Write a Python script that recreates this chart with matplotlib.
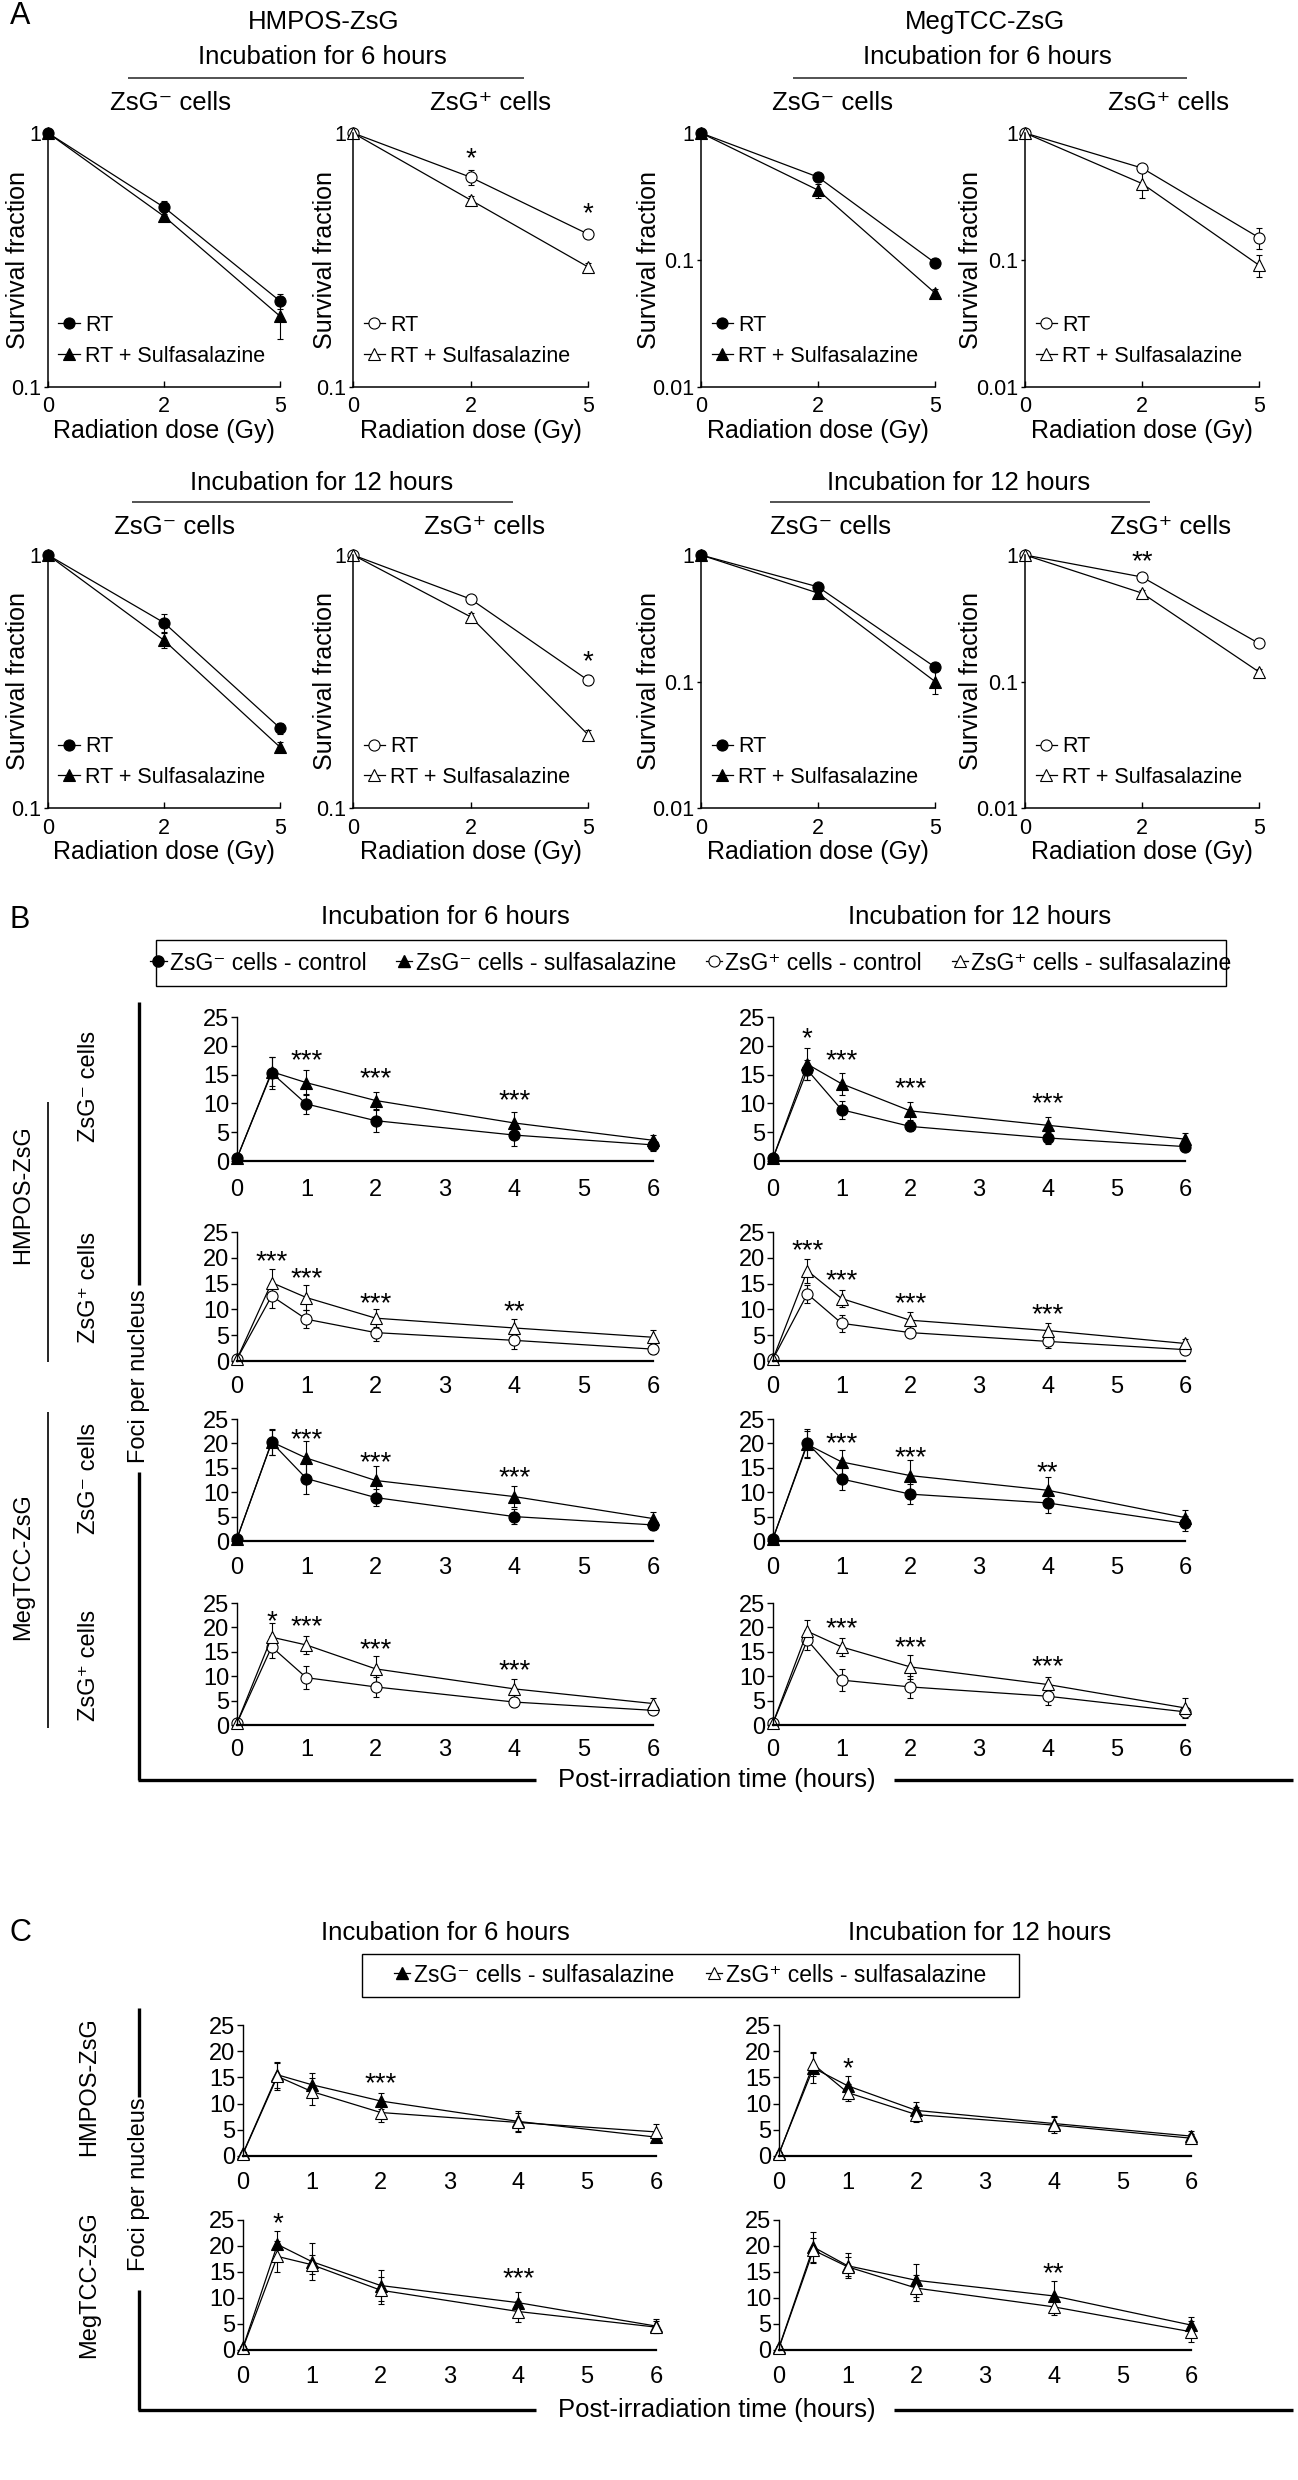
import numpy as np
import matplotlib
matplotlib.use("Agg")
import matplotlib.pyplot as plt
from matplotlib.lines import Line2D
from matplotlib.patches import Rectangle
from matplotlib.ticker import NullLocator

plt.rcParams["font.family"] = ["Liberation Sans", "DejaVu Sans"]

# ======================= DATA =======================
# ---- Panel A: survival fraction vs radiation dose (category axis) ----
dose_labels = ["0", "2", "5"]

# HMPOS-ZsG, incubation 6 h
a_hm6_neg_rt = [1.0, 0.51, 0.218]
a_hm6_neg_rt_err = [0.0, 0.03, 0.015]
a_hm6_neg_ssz = [1.0, 0.47, 0.190]
a_hm6_neg_ssz_err = [0.0, 0.02, 0.035]
a_hm6_pos_rt = [1.0, 0.67, 0.40]
a_hm6_pos_rt_err = [0.0, 0.045, 0.015]
a_hm6_pos_ssz = [1.0, 0.545, 0.297]
a_hm6_pos_ssz_err = [0.0, 0.02, 0.01]
# MegTCC-ZsG, incubation 6 h
a_mg6_neg_rt = [1.0, 0.45, 0.095]
a_mg6_neg_rt_err = [0.0, 0.03, 0.006]
a_mg6_neg_ssz = [1.0, 0.355, 0.055]
a_mg6_neg_ssz_err = [0.0, 0.045, 0.004]
a_mg6_pos_rt = [1.0, 0.53, 0.15]
a_mg6_pos_rt_err = [0.0, 0.03, 0.028]
a_mg6_pos_ssz = [1.0, 0.40, 0.091]
a_mg6_pos_ssz_err = [0.0, 0.09, 0.018]
# HMPOS-ZsG, incubation 12 h
a_hm12_neg_rt = [1.0, 0.54, 0.207]
a_hm12_neg_rt_err = [0.0, 0.045, 0.01]
a_hm12_neg_ssz = [1.0, 0.46, 0.174]
a_hm12_neg_ssz_err = [0.0, 0.03, 0.008]
a_hm12_pos_rt = [1.0, 0.67, 0.32]
a_hm12_pos_rt_err = [0.0, 0.02, 0.015]
a_hm12_pos_ssz = [1.0, 0.57, 0.195]
a_hm12_pos_ssz_err = [0.0, 0.02, 0.008]
# MegTCC-ZsG, incubation 12 h
a_mg12_neg_rt = [1.0, 0.56, 0.13]
a_mg12_neg_rt_err = [0.0, 0.04, 0.01]
a_mg12_neg_ssz = [1.0, 0.50, 0.10]
a_mg12_neg_ssz_err = [0.0, 0.03, 0.02]
a_mg12_pos_rt = [1.0, 0.67, 0.20]
a_mg12_pos_rt_err = [0.0, 0.03, 0.01]
a_mg12_pos_ssz = [1.0, 0.50, 0.119]
a_mg12_pos_ssz_err = [0.0, 0.03, 0.006]

# significance marks (category index, y, text)
a_hm6_pos_stars = [(1, 0.857, "*"), (2, 0.52, "*")]
a_hm12_pos_stars = [(2, 0.41, "*")]
a_mg12_pos_stars = [(1, 1.03, "**")]

# ---- Panels B / C: foci per nucleus vs post-irradiation time ----
time_h = [0, 0.5, 1, 2, 4, 6]

# HMPOS-ZsG, 6 h
b_hm6_neg_ctrl = [0.5, 15.3, 9.9, 7.0, 4.5, 2.8]
b_hm6_neg_ctrl_err = [0.2, 2.8, 1.8, 1.9, 1.9, 1.0]
b_hm6_neg_ssz = [0.5, 15.5, 13.6, 10.5, 6.6, 3.6]
b_hm6_neg_ssz_err = [0.2, 2.5, 2.2, 1.5, 1.9, 1.0]
b_hm6_pos_ctrl = [0.4, 12.6, 8.1, 5.5, 4.0, 2.3]
b_hm6_pos_ctrl_err = [0.2, 2.3, 1.7, 1.7, 1.6, 1.0]
b_hm6_pos_ssz = [0.4, 15.2, 12.3, 8.3, 6.4, 4.6]
b_hm6_pos_ssz_err = [0.2, 2.6, 2.5, 1.8, 1.8, 1.5]
# HMPOS-ZsG, 12 h
b_hm12_neg_ctrl = [0.5, 15.8, 8.9, 6.0, 4.0, 2.5]
b_hm12_neg_ctrl_err = [0.2, 1.8, 1.6, 0.8, 1.0, 0.5]
b_hm12_neg_ssz = [0.5, 16.8, 13.4, 8.7, 6.2, 3.8]
b_hm12_neg_ssz_err = [0.2, 2.8, 1.9, 1.6, 1.5, 1.0]
b_hm12_pos_ctrl = [0.4, 13.0, 7.3, 5.5, 3.8, 2.2]
b_hm12_pos_ctrl_err = [0.2, 1.8, 1.6, 0.8, 1.2, 0.6]
b_hm12_pos_ssz = [0.4, 17.5, 12.1, 7.9, 5.9, 3.4]
b_hm12_pos_ssz_err = [0.2, 2.3, 1.6, 1.5, 1.5, 0.8]
# MegTCC-ZsG, 6 h
b_mg6_neg_ctrl = [0.5, 20.2, 12.8, 8.9, 5.0, 3.3]
b_mg6_neg_ctrl_err = [0.2, 2.6, 3.2, 1.8, 1.6, 1.0]
b_mg6_neg_ssz = [0.5, 20.3, 17.0, 12.4, 9.1, 4.6]
b_mg6_neg_ssz_err = [0.2, 2.6, 3.5, 3.0, 2.1, 1.3]
b_mg6_pos_ctrl = [0.4, 16.0, 9.7, 7.8, 4.7, 3.0]
b_mg6_pos_ctrl_err = [0.2, 2.2, 2.3, 2.0, 1.0, 0.8]
b_mg6_pos_ssz = [0.4, 18.0, 16.4, 11.5, 7.4, 4.4]
b_mg6_pos_ssz_err = [0.2, 3.0, 1.8, 2.6, 2.0, 1.2]
# MegTCC-ZsG, 12 h
b_mg12_neg_ctrl = [0.5, 20.1, 12.7, 9.6, 7.8, 3.6]
b_mg12_neg_ctrl_err = [0.2, 2.8, 2.2, 2.1, 2.0, 1.5]
b_mg12_neg_ssz = [0.5, 19.8, 16.2, 13.4, 10.4, 4.8]
b_mg12_neg_ssz_err = [0.2, 2.8, 2.4, 3.2, 2.8, 1.5]
b_mg12_pos_ctrl = [0.4, 17.4, 9.2, 7.8, 5.9, 2.7]
b_mg12_pos_ctrl_err = [0.2, 2.0, 2.3, 2.2, 1.7, 0.7]
b_mg12_pos_ssz = [0.4, 19.2, 16.0, 11.9, 8.3, 3.5]
b_mg12_pos_ssz_err = [0.2, 2.4, 1.8, 2.5, 1.6, 2.0]

# significance marks (time, y, text)
b_hm6_neg_stars = [(1, 18.9, "***"), (2, 15.8, "***"), (4, 12.0, "***")]
b_hm12_neg_stars = [(0.5, 22.7, "*"), (1, 18.9, "***"), (2, 14.0, "***"), (4, 11.4, "***")]
b_hm6_pos_stars = [(0.5, 21.0, "***"), (1, 17.6, "***"), (2, 12.8, "***"), (4, 11.2, "**")]
b_hm12_pos_stars = [(0.5, 23.1, "***"), (1, 17.3, "***"), (2, 12.8, "***"), (4, 10.7, "***")]
b_mg6_neg_stars = [(1, 22.5, "***"), (2, 17.8, "***"), (4, 14.7, "***")]
b_mg12_neg_stars = [(1, 21.8, "***"), (2, 18.9, "***"), (4, 15.8, "**")]
b_mg6_pos_stars = [(0.5, 23.0, "*"), (1, 21.9, "***"), (2, 17.1, "***"), (4, 12.8, "***")]
b_mg12_pos_stars = [(1, 21.5, "***"), (2, 17.6, "***"), (4, 13.7, "***")]

c_hm6_stars = [(2, 15.5, "***")]
c_hm12_stars = [(1, 18.3, "*")]
c_mg6_stars = [(0.5, 26.0, "*"), (4, 15.4, "***")]
c_mg12_stars = [(4, 16.3, "**")]

# ======================= FIGURE =======================
W, H = 1298, 2480
fig = plt.figure(figsize=(W / 100, H / 100), dpi=100)


def rect(x0, x1, y0, y1):
    return [x0 / W, 1 - y1 / H, (x1 - x0) / W, (y1 - y0) / H]


def fx(x):
    return x / W


def fy(y):
    return 1 - y / H


def ftext(x, y, s, size=18.5, rot=0, **kw):
    fig.text(fx(x), fy(y), s, ha="center", va="center", fontsize=size,
             rotation=rot, **kw)


def fline(x0, y0, x1, y1, lw=1.2, color="black"):
    fig.add_artist(Line2D([fx(x0), fx(x1)], [fy(y0), fy(y1)],
                          transform=fig.transFigure, color=color, lw=lw,
                          solid_capstyle="butt"))


def noclip(cont):
    for a in cont.get_children():
        a.set_clip_on(False)


def star(ax, x, y, s, fs=20):
    ax.annotate(s, (x, y), xytext=(0, -0.58 * fs), textcoords="offset points",
                ha="center", va="baseline", fontsize=fs, annotation_clip=False)


EB = dict(color="black", lw=0.9, ms=8, mec="black", mew=0.8,
          capsize=2.5, elinewidth=0.8, capthick=0.8)


# ---------------- Panel A ----------------
def survival_panel(box, ymin, rt, rt_err, ssz, ssz_err, open_marks,
                   stars, ylab_dx, tick_dy=17, xlab_dy=44):
    x0, x1, y0, y1 = box
    ax = fig.add_axes(rect(*box))
    x = np.arange(len(dose_labels))
    fc = "white" if open_marks else "black"
    for y, e, m in ((rt, rt_err, "o"), (ssz, ssz_err, "^")):
        c = ax.errorbar(x, y, yerr=e, marker=m, mfc=fc, **EB)
        noclip(c)
    ax.set_yscale("log")
    ax.set_ylim(ymin, 1)
    ax.set_xlim(0, len(dose_labels) - 1)
    yt = [1, 0.1] + ([0.01] if ymin < 0.1 else [])
    ax.set_yticks(yt)
    ax.set_yticklabels([f"{v:g}" for v in yt])
    ax.yaxis.set_minor_locator(NullLocator())
    ax.set_xticks(x)
    ax.set_xticklabels(dose_labels)
    for s in ("top", "right"):
        ax.spines[s].set_visible(False)
    for s in ("left", "bottom"):
        ax.spines[s].set_linewidth(1.1)
    ax.tick_params(axis="y", direction="out", length=3, width=1,
                   labelsize=15.5, pad=2)
    ax.tick_params(axis="x", direction="in", length=4, width=1,
                   labelsize=15.5, pad=(tick_dy - 7.5) * 0.72)
    ax.set_ylabel("Survival fraction", fontsize=18, va="center")
    ax.yaxis.set_label_coords(-ylab_dx / (x1 - x0), 0.5)
    ax.set_xlabel("Radiation dose (Gy)", fontsize=18, va="center")
    ax.xaxis.set_label_coords(0.5, -xlab_dy / (y1 - y0))
    handles = [Line2D([], [], color="black", lw=0.9, marker="o", ms=8,
                      mfc=fc, mec="black", mew=0.8),
               Line2D([], [], color="black", lw=0.9, marker="^", ms=8,
                      mfc=fc, mec="black", mew=0.8)]
    ax.legend(handles, ["RT", "RT + Sulfasalazine"], loc="lower left",
              bbox_to_anchor=(0.045, 0.08), frameon=False, fontsize=15.5,
              handlelength=1.0, handletextpad=0.25, labelspacing=0.45,
              borderpad=0, borderaxespad=0)
    for xs, ys, s in stars:
        star(ax, xs, ys, s)
    return ax


colA = [(48, 280), (353, 588), (701, 935), (1025, 1259)]
rowA = [(133, 387), (555, 808)]

survival_panel((*colA[0], *rowA[0]), 0.1, a_hm6_neg_rt, a_hm6_neg_rt_err,
               a_hm6_neg_ssz, a_hm6_neg_ssz_err, False, [], 30)
survival_panel((*colA[1], *rowA[0]), 0.1, a_hm6_pos_rt, a_hm6_pos_rt_err,
               a_hm6_pos_ssz, a_hm6_pos_ssz_err, True, a_hm6_pos_stars, 28)
survival_panel((*colA[2], *rowA[0]), 0.01, a_mg6_neg_rt, a_mg6_neg_rt_err,
               a_mg6_neg_ssz, a_mg6_neg_ssz_err, False, [], 52)
survival_panel((*colA[3], *rowA[0]), 0.01, a_mg6_pos_rt, a_mg6_pos_rt_err,
               a_mg6_pos_ssz, a_mg6_pos_ssz_err, True, [], 54)
survival_panel((*colA[0], *rowA[1]), 0.1, a_hm12_neg_rt, a_hm12_neg_rt_err,
               a_hm12_neg_ssz, a_hm12_neg_ssz_err, False, [], 30)
survival_panel((*colA[1], *rowA[1]), 0.1, a_hm12_pos_rt, a_hm12_pos_rt_err,
               a_hm12_pos_ssz, a_hm12_pos_ssz_err, True, a_hm12_pos_stars, 28)
survival_panel((*colA[2], *rowA[1]), 0.01, a_mg12_neg_rt, a_mg12_neg_rt_err,
               a_mg12_neg_ssz, a_mg12_neg_ssz_err, False, [], 52)
survival_panel((*colA[3], *rowA[1]), 0.01, a_mg12_pos_rt, a_mg12_pos_rt_err,
               a_mg12_pos_ssz, a_mg12_pos_ssz_err, True, a_mg12_pos_stars, 54)

NEG = "ZsG\u207b cells"
POS = "ZsG\u207a cells"

ftext(20, 16, "A", size=22)
ftext(324, 22, "HMPOS-ZsG")
ftext(322, 57, "Incubation for 6 hours")
fline(128, 78, 524, 78, lw=1.3, color="#444444")
ftext(170, 103, NEG)
ftext(490, 103, POS)
ftext(985, 22, "MegTCC-ZsG")
ftext(987, 57, "Incubation for 6 hours")
fline(793, 78, 1187, 78, lw=1.3, color="#444444")
ftext(832, 103, NEG)
ftext(1169, 103, POS)

ftext(322, 483, "Incubation for 12 hours")
fline(132, 502, 513, 502, lw=1.3, color="#444444")
ftext(174, 527, NEG)
ftext(484, 527, POS)
ftext(959, 483, "Incubation for 12 hours")
fline(770, 502, 1150, 502, lw=1.3, color="#444444")
ftext(831, 527, NEG)
ftext(1170, 527, POS)


# ---------------- Panels B / C ----------------
def foci_panel(box, groups, stars, tick_dy):
    ax = fig.add_axes(rect(*box))
    for y, e, m, fc in groups:
        c = ax.errorbar(time_h, y, yerr=e, marker=m, mfc=fc, **EB)
        noclip(c)
    ax.set_xlim(0, 6)
    ax.set_ylim(0, 25)
    ax.set_xticks(range(7))
    ax.set_yticks(range(0, 26, 5))
    for s in ("top", "right"):
        ax.spines[s].set_visible(False)
    ax.spines["left"].set_linewidth(1.0)
    ax.spines["bottom"].set_linewidth(1.6)
    ax.tick_params(axis="x", length=0, labelsize=17,
                   pad=(tick_dy - 9) * 0.72)
    ax.tick_params(axis="y", direction="out", length=4, width=1,
                   labelsize=17, pad=1.5)
    for xs, ys, s in stars:
        star(ax, xs, ys, s)
    return ax


def neg_groups(ctrl, ctrl_e, ssz, ssz_e):
    return [(ctrl, ctrl_e, "o", "black"), (ssz, ssz_e, "^", "black")]


def pos_groups(ctrl, ctrl_e, ssz, ssz_e):
    return [(ctrl, ctrl_e, "o", "white"), (ssz, ssz_e, "^", "white")]


colB = [(237, 653), (773, 1185)]
rowB = [(1017, 1161, 27), (1232, 1361, 24), (1419, 1541, 25), (1603, 1725, 23)]

foci_panel((*colB[0], *rowB[0][:2]), neg_groups(b_hm6_neg_ctrl, b_hm6_neg_ctrl_err,
           b_hm6_neg_ssz, b_hm6_neg_ssz_err), b_hm6_neg_stars, rowB[0][2])
foci_panel((*colB[1], *rowB[0][:2]), neg_groups(b_hm12_neg_ctrl, b_hm12_neg_ctrl_err,
           b_hm12_neg_ssz, b_hm12_neg_ssz_err), b_hm12_neg_stars, rowB[0][2])
foci_panel((*colB[0], *rowB[1][:2]), pos_groups(b_hm6_pos_ctrl, b_hm6_pos_ctrl_err,
           b_hm6_pos_ssz, b_hm6_pos_ssz_err), b_hm6_pos_stars, rowB[1][2])
foci_panel((*colB[1], *rowB[1][:2]), pos_groups(b_hm12_pos_ctrl, b_hm12_pos_ctrl_err,
           b_hm12_pos_ssz, b_hm12_pos_ssz_err), b_hm12_pos_stars, rowB[1][2])
foci_panel((*colB[0], *rowB[2][:2]), neg_groups(b_mg6_neg_ctrl, b_mg6_neg_ctrl_err,
           b_mg6_neg_ssz, b_mg6_neg_ssz_err), b_mg6_neg_stars, rowB[2][2])
foci_panel((*colB[1], *rowB[2][:2]), neg_groups(b_mg12_neg_ctrl, b_mg12_neg_ctrl_err,
           b_mg12_neg_ssz, b_mg12_neg_ssz_err), b_mg12_neg_stars, rowB[2][2])
foci_panel((*colB[0], *rowB[3][:2]), pos_groups(b_mg6_pos_ctrl, b_mg6_pos_ctrl_err,
           b_mg6_pos_ssz, b_mg6_pos_ssz_err), b_mg6_pos_stars, rowB[3][2])
foci_panel((*colB[1], *rowB[3][:2]), pos_groups(b_mg12_pos_ctrl, b_mg12_pos_ctrl_err,
           b_mg12_pos_ssz, b_mg12_pos_ssz_err), b_mg12_pos_stars, rowB[3][2])

# Panel B texts and brackets
ftext(20, 920, "B", size=22)
ftext(445, 917, "Incubation for 6 hours")
ftext(980, 917, "Incubation for 12 hours")
fig.add_artist(Rectangle((fx(156), fy(986)), (1226 - 156) / W, (986 - 940) / H,
                         transform=fig.transFigure, fill=False, ec="black", lw=1.0))
hB = [Line2D([], [], color="black", lw=0.9, marker="o", ms=8, mfc="black", mec="black"),
      Line2D([], [], color="black", lw=0.9, marker="^", ms=8, mfc="black", mec="black"),
      Line2D([], [], color="black", lw=0.9, marker="o", ms=8, mfc="white", mec="black", mew=0.8),
      Line2D([], [], color="black", lw=0.9, marker="^", ms=8, mfc="white", mec="black", mew=0.8)]
lB = [NEG + " - control", NEG + " - sulfasalazine",
      POS + " - control", POS + " - sulfasalazine"]
fig.legend(hB, lB, loc="center", bbox_to_anchor=(fx(691), fy(963)), ncol=4,
           frameon=False, fontsize=16.5, handlelength=0.7, handletextpad=0.15,
           columnspacing=1.3, borderpad=0)

ftext(23, 1195, "HMPOS-ZsG", size=17, rot=90)
fline(48, 1102, 48, 1362, lw=1.2)
ftext(23, 1567, "MegTCC-ZsG", size=17, rot=90)
fline(48, 1412, 48, 1728, lw=1.2)
ftext(89, 1086, NEG, size=17, rot=90)
ftext(89, 1287, POS, size=17, rot=90)
ftext(89, 1478, NEG, size=17, rot=90)
ftext(89, 1665, POS, size=17, rot=90)
ftext(139, 1376, "Foci per nucleus", size=17, rot=90)
fline(139, 1002, 139, 1285, lw=2.4)
fline(139, 1472, 139, 1780, lw=2.4)
fline(138, 1780, 536, 1780, lw=2.4)
fline(894, 1780, 1293, 1780, lw=2.4)
ftext(717, 1780, "Post-irradiation time (hours)", size=18.5)

# Panel C
colC = [(243, 656), (779, 1191)]
rowC = [(2025, 2156, 25), (2220, 2350, 25)]


def ssz_groups(neg, neg_e, pos, pos_e):
    return [(neg, neg_e, "^", "black"), (pos, pos_e, "^", "white")]


foci_panel((*colC[0], *rowC[0][:2]), ssz_groups(b_hm6_neg_ssz, b_hm6_neg_ssz_err,
           b_hm6_pos_ssz, b_hm6_pos_ssz_err), c_hm6_stars, rowC[0][2])
foci_panel((*colC[1], *rowC[0][:2]), ssz_groups(b_hm12_neg_ssz, b_hm12_neg_ssz_err,
           b_hm12_pos_ssz, b_hm12_pos_ssz_err), c_hm12_stars, rowC[0][2])
foci_panel((*colC[0], *rowC[1][:2]), ssz_groups(b_mg6_neg_ssz, b_mg6_neg_ssz_err,
           b_mg6_pos_ssz, b_mg6_pos_ssz_err), c_mg6_stars, rowC[1][2])
foci_panel((*colC[1], *rowC[1][:2]), ssz_groups(b_mg12_neg_ssz, b_mg12_neg_ssz_err,
           b_mg12_pos_ssz, b_mg12_pos_ssz_err), c_mg12_stars, rowC[1][2])

ftext(20, 1933, "C", size=22)
ftext(445, 1933, "Incubation for 6 hours")
ftext(980, 1933, "Incubation for 12 hours")
fig.add_artist(Rectangle((fx(362), fy(1997)), (1019 - 362) / W, (1997 - 1954) / H,
                         transform=fig.transFigure, fill=False, ec="black", lw=1.0))
fig.legend([hB[1], hB[3]], [lB[1], lB[3]], loc="center",
           bbox_to_anchor=(fx(690), fy(1975)), ncol=2, frameon=False,
           fontsize=16.5, handlelength=0.7, handletextpad=0.15,
           columnspacing=1.4, borderpad=0)

ftext(89, 2087, "HMPOS-ZsG", size=17, rot=90)
ftext(89, 2285, "MegTCC-ZsG", size=17, rot=90)
ftext(139, 2184, "Foci per nucleus", size=17, rot=90)
fline(139, 2008, 139, 2097, lw=2.4)
fline(139, 2290, 139, 2410, lw=2.4)
fline(138, 2410, 536, 2410, lw=2.4)
fline(894, 2410, 1293, 2410, lw=2.4)
ftext(717, 2410, "Post-irradiation time (hours)", size=18.5)

fig.savefig("out.png", dpi=100)
